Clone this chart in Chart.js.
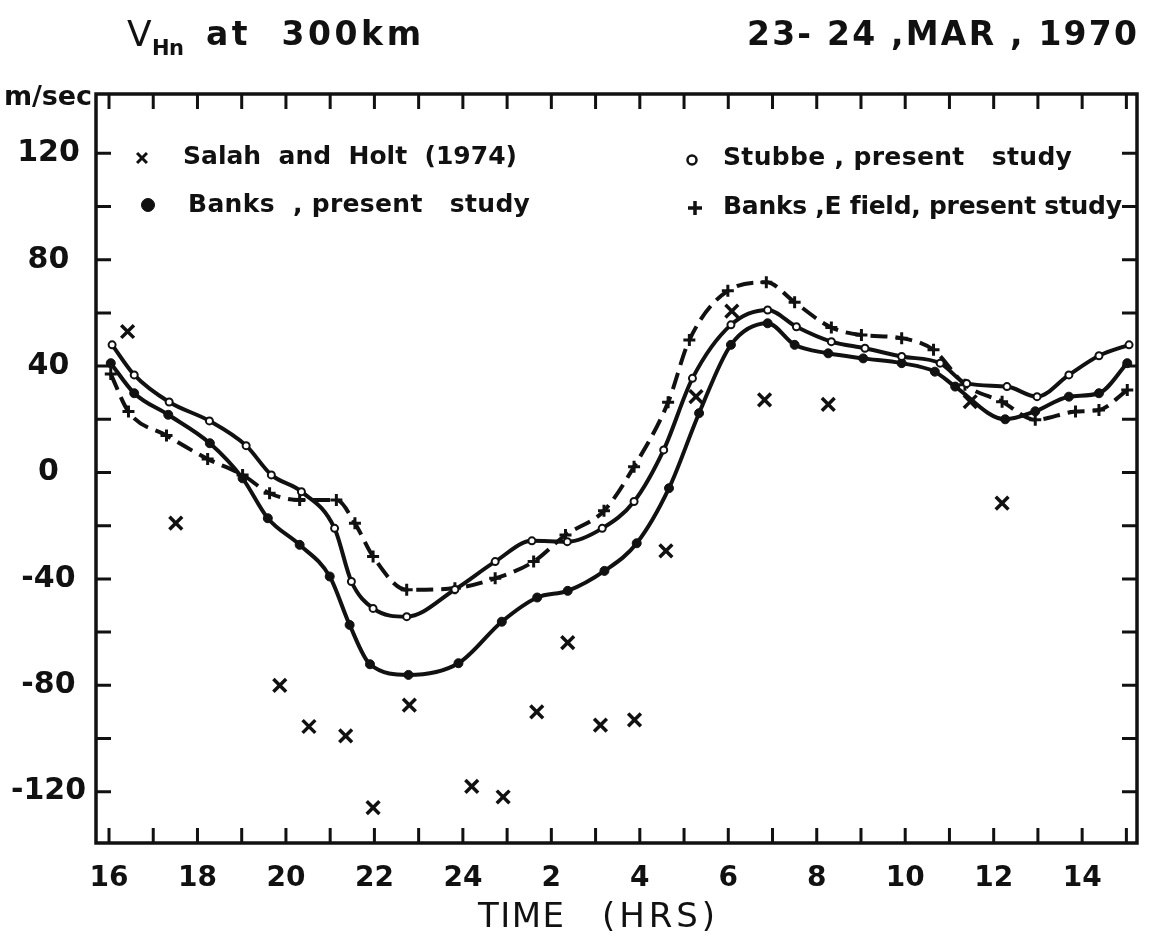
<!DOCTYPE html>
<html>
<head>
<meta charset="utf-8">
<title>VHn at 300 km</title>
<script src="https://cdn.jsdelivr.net/npm/chart.js@4.4.0/dist/chart.umd.min.js"></script>
<style>
  html, body { margin: 0; padding: 0; background: #fff; }
  canvas { display: block; }
</style>
</head>
<body>
<canvas id="vhnChart" width="1152" height="948"></canvas>
<script>
// Temps continu en heures : 16 h le 23 -> 39 (= 15 h le 24)
const hourTicks = [16, 17, 18, 19, 20, 21, 22, 23, 24, 25, 26, 27, 28, 29, 30, 31, 32, 33, 34, 35, 36, 37, 38, 39];
const labelHours = [16, 18, 20, 22, 24, 26, 28, 30, 32, 34, 36, 38];
const labelTexts = ['16', '18', '20', '22', '24', '2', '4', '6', '8', '10', '12', '14'];

const velTicks = [-120, -100, -80, -60, -40, -20, 0, 20, 40, 60, 80, 100, 120];
const velLabelValues = [-120, -80, -40, 0, 40, 80, 120];

// Salah and Holt (1974)
const salahHours = [16.42, 17.51, 19.86, 20.52, 21.35, 21.97, 22.79, 24.20, 24.91, 25.67, 26.37, 27.11, 27.88, 28.59, 29.27, 30.08, 30.82, 32.26, 35.47, 36.19];
const salahVel   = [53, -19, -80, -95.5, -99, -126, -87.5, -118, -122, -90, -64, -95, -93, -29.5, 28.5, 60.7, 27.3, 25.6, 26.6, -11.5];

// Stubbe, present study
const stubbeHours = [16.07, 16.57, 17.36, 18.27, 19.10, 19.67, 20.35, 21.10, 21.48, 21.97, 22.73, 23.82, 24.73, 25.56, 26.36, 27.15, 27.87, 28.54, 29.19, 30.06, 30.89, 31.54, 32.33, 33.09, 33.92, 34.79, 35.39, 36.30, 36.98, 37.70, 38.38, 39.06];
const stubbeVel   = [48.0, 36.7, 26.5, 19.4, 10.1, -0.9, -7.2, -21.0, -41.0, -51.1, -54.2, -44.0, -33.5, -25.7, -26.0, -21.0, -10.9, 8.5, 35.4, 55.5, 61.1, 54.8, 49.2, 46.7, 43.6, 41.1, 33.5, 32.3, 28.5, 36.7, 43.9, 48.0];

// Banks, present study
const banksHours = [16.04, 16.57, 17.34, 18.28, 19.02, 19.59, 20.31, 20.99, 21.44, 21.90, 22.77, 23.90, 24.88, 25.68, 26.37, 27.20, 27.93, 28.66, 29.34, 30.06, 30.89, 31.50, 32.26, 33.05, 33.92, 34.67, 35.13, 36.26, 36.94, 37.70, 38.38, 39.02];
const banksVel   = [41.1, 29.8, 21.7, 11.0, -2.2, -17.2, -27.2, -39.1, -57.3, -72.1, -76.1, -71.7, -56.1, -47.0, -44.5, -37.0, -26.6, -5.9, 22.3, 48.0, 56.1, 48.0, 44.8, 42.9, 41.1, 37.9, 32.3, 20.0, 23.0, 28.5, 29.8, 41.1];

// Banks, E field, present study
const efieldHours = [16.04, 16.44, 17.30, 18.23, 19.02, 19.63, 20.31, 21.14, 21.56, 21.97, 22.73, 23.82, 24.73, 25.60, 26.32, 27.19, 27.87, 28.64, 29.12, 29.99, 30.86, 31.50, 32.33, 33.01, 33.92, 34.64, 35.35, 36.19, 36.94, 37.85, 38.38, 39.02];
const efieldVel   = [37.0, 22.9, 13.9, 5.1, -0.9, -7.8, -10.3, -10.3, -19.1, -31.6, -44.1, -43.5, -39.8, -33.5, -23.5, -14.4, 2.2, 26.4, 49.8, 68.3, 71.5, 64.0, 54.5, 51.7, 50.5, 46.1, 33.0, 26.6, 19.8, 22.9, 23.5, 31.0];

const ink = '#111';
const face = '"DejaVu Sans", "Liberation Sans", sans-serif';

const toPoints = (xs, ys) => xs.map((x, i) => ({ x, y: ys[i] }));

// texte étiré à une largeur donnée (lettrage espacé)
function spacedText(ctx, text, x, y, width) {
    ctx.letterSpacing = '0px';
    const natural = ctx.measureText(text).width;
    const gap = text.length > 1 ? Math.max(-1.5, (width - natural) / (text.length - 1)) : 0;
    ctx.letterSpacing = gap.toFixed(2) + 'px';
    ctx.fillText(text, x, y);
    ctx.letterSpacing = '0px';
}

function legendMark(ctx, style, x, y) {
    ctx.save();
    ctx.strokeStyle = ink;
    ctx.fillStyle = style.fill || ink;
    ctx.lineWidth = style.borderWidth;
    Chart.helpers.drawPoint(ctx, style, x, y);
    ctx.restore();
}

// cadre, graduations intérieures, titres et légende
const paperFrame = {
    id: 'paperFrame',
    afterDraw(chart) {
        const { ctx, chartArea: a, scales } = chart;
        ctx.save();
        ctx.strokeStyle = ink;
        ctx.fillStyle = ink;
        ctx.lineCap = 'butt';

        // graduations vers l'intérieur sur les quatre côtés
        ctx.lineWidth = 3;
        const len = 15;
        ctx.beginPath();
        hourTicks.forEach(h => {
            const px = scales.x.getPixelForValue(h);
            ctx.moveTo(px, a.bottom); ctx.lineTo(px, a.bottom - len);
            ctx.moveTo(px, a.top); ctx.lineTo(px, a.top + len);
        });
        velTicks.forEach(v => {
            const py = scales.y.getPixelForValue(v);
            ctx.moveTo(a.left, py); ctx.lineTo(a.left + len, py);
            ctx.moveTo(a.right, py); ctx.lineTo(a.right - len, py);
        });
        ctx.stroke();

        ctx.lineWidth = 3.5;
        ctx.strokeRect(a.left, a.top, a.right - a.left, a.bottom - a.top);

        // titres
        ctx.textBaseline = 'alphabetic';
        ctx.textAlign = 'left';
        ctx.font = `36px ${face}`;
        ctx.fillText('V', 127, 46);
        ctx.font = `bold 21px ${face}`;
        spacedText(ctx, 'Hn', 152, 55, 32);
        ctx.font = `bold 33px ${face}`;
        spacedText(ctx, 'at  300km', 206, 45, 215);
        spacedText(ctx, '23- 24 ,MAR , 1970', 747, 45, 390);
        ctx.font = `bold 27px ${face}`;
        spacedText(ctx, 'm/sec', 4, 105, 88);
        ctx.font = `34px ${face}`;
        spacedText(ctx, 'TIME', 478, 927, 86);
        spacedText(ctx, '(HRS)', 602, 927, 113);

        // légende dans le cadre
        ctx.font = `bold 25px ${face}`;
        ctx.textBaseline = 'middle';
        legendMark(ctx, { pointStyle: 'crossRot', radius: 7, borderWidth: 3 }, 142, 158);
        spacedText(ctx, 'Salah  and  Holt  (1974)', 183, 157, 334);
        legendMark(ctx, { pointStyle: 'circle', radius: 6.5, borderWidth: 1 }, 148, 205);
        spacedText(ctx, 'Banks  , present   study', 188, 205, 342);
        legendMark(ctx, { pointStyle: 'circle', radius: 4.5, borderWidth: 2.5, fill: '#fff' }, 692, 160);
        spacedText(ctx, 'Stubbe , present   study', 723, 158, 349);
        legendMark(ctx, { pointStyle: 'cross', radius: 7, borderWidth: 3.5 }, 695, 208);
        spacedText(ctx, 'Banks ,E field, present study', 723, 207, 398);
        ctx.restore();
    }
};

const ctx = document.getElementById('vhnChart').getContext('2d');

new Chart(ctx, {
    type: 'scatter',
    data: {
        datasets: [
            {
                label: 'Salah and Holt (1974)',
                data: toPoints(salahHours, salahVel),
                showLine: false,
                pointStyle: 'crossRot',
                pointRadius: 9,
                pointBorderWidth: 3.5,
                borderColor: ink
            },
            {
                label: 'Stubbe , present study',
                data: toPoints(stubbeHours, stubbeVel),
                showLine: true,
                cubicInterpolationMode: 'monotone',
                borderColor: ink,
                borderWidth: 4,
                pointStyle: 'circle',
                pointRadius: 3.5,
                pointBorderWidth: 2,
                pointBackgroundColor: '#fff',
                pointBorderColor: ink
            },
            {
                label: 'Banks , present study',
                data: toPoints(banksHours, banksVel),
                showLine: true,
                cubicInterpolationMode: 'monotone',
                borderColor: ink,
                borderWidth: 4,
                pointStyle: 'circle',
                pointRadius: 4.5,
                pointBorderWidth: 1,
                pointBackgroundColor: ink,
                pointBorderColor: ink
            },
            {
                label: 'Banks , E field , present study',
                data: toPoints(efieldHours, efieldVel),
                showLine: true,
                cubicInterpolationMode: 'monotone',
                borderColor: ink,
                borderWidth: 4,
                borderDash: [17, 8],
                pointStyle: 'cross',
                pointRadius: 6,
                pointBorderWidth: 3,
                pointBorderColor: ink
            }
        ]
    },
    plugins: [paperFrame],
    options: {
        responsive: false,
        animation: false,
        layout: { padding: { top: 94, right: 15, left: 0, bottom: 0 } },
        scales: {
            x: {
                type: 'linear',
                min: 15.706,
                max: 39.24,
                afterBuildTicks: axis => { axis.ticks = labelHours.map(value => ({ value })); },
                afterFit: axis => { axis.height = 105; },
                grid: { display: false, drawTicks: false },
                border: { display: false },
                ticks: {
                    autoSkip: false,
                    maxRotation: 0,
                    padding: 19,
                    color: ink,
                    font: { family: face, size: 28, weight: 'bold' },
                    callback: value => labelTexts[labelHours.indexOf(value)] ?? ''
                }
            },
            y: {
                type: 'linear',
                min: -139.3,
                max: 142.3,
                afterBuildTicks: axis => { axis.ticks = velLabelValues.map(value => ({ value })); },
                afterFit: axis => { axis.width = 96; },
                grid: { display: false, drawTicks: false },
                border: { display: false },
                ticks: {
                    crossAlign: 'center',
                    padding: 10,
                    color: ink,
                    font: { family: face, size: 30, weight: 'bold' },
                    callback: value => String(value)
                }
            }
        },
        plugins: {
            legend: { display: false },
            tooltip: { enabled: false }
        }
    }
});
</script>
</body>
</html>
